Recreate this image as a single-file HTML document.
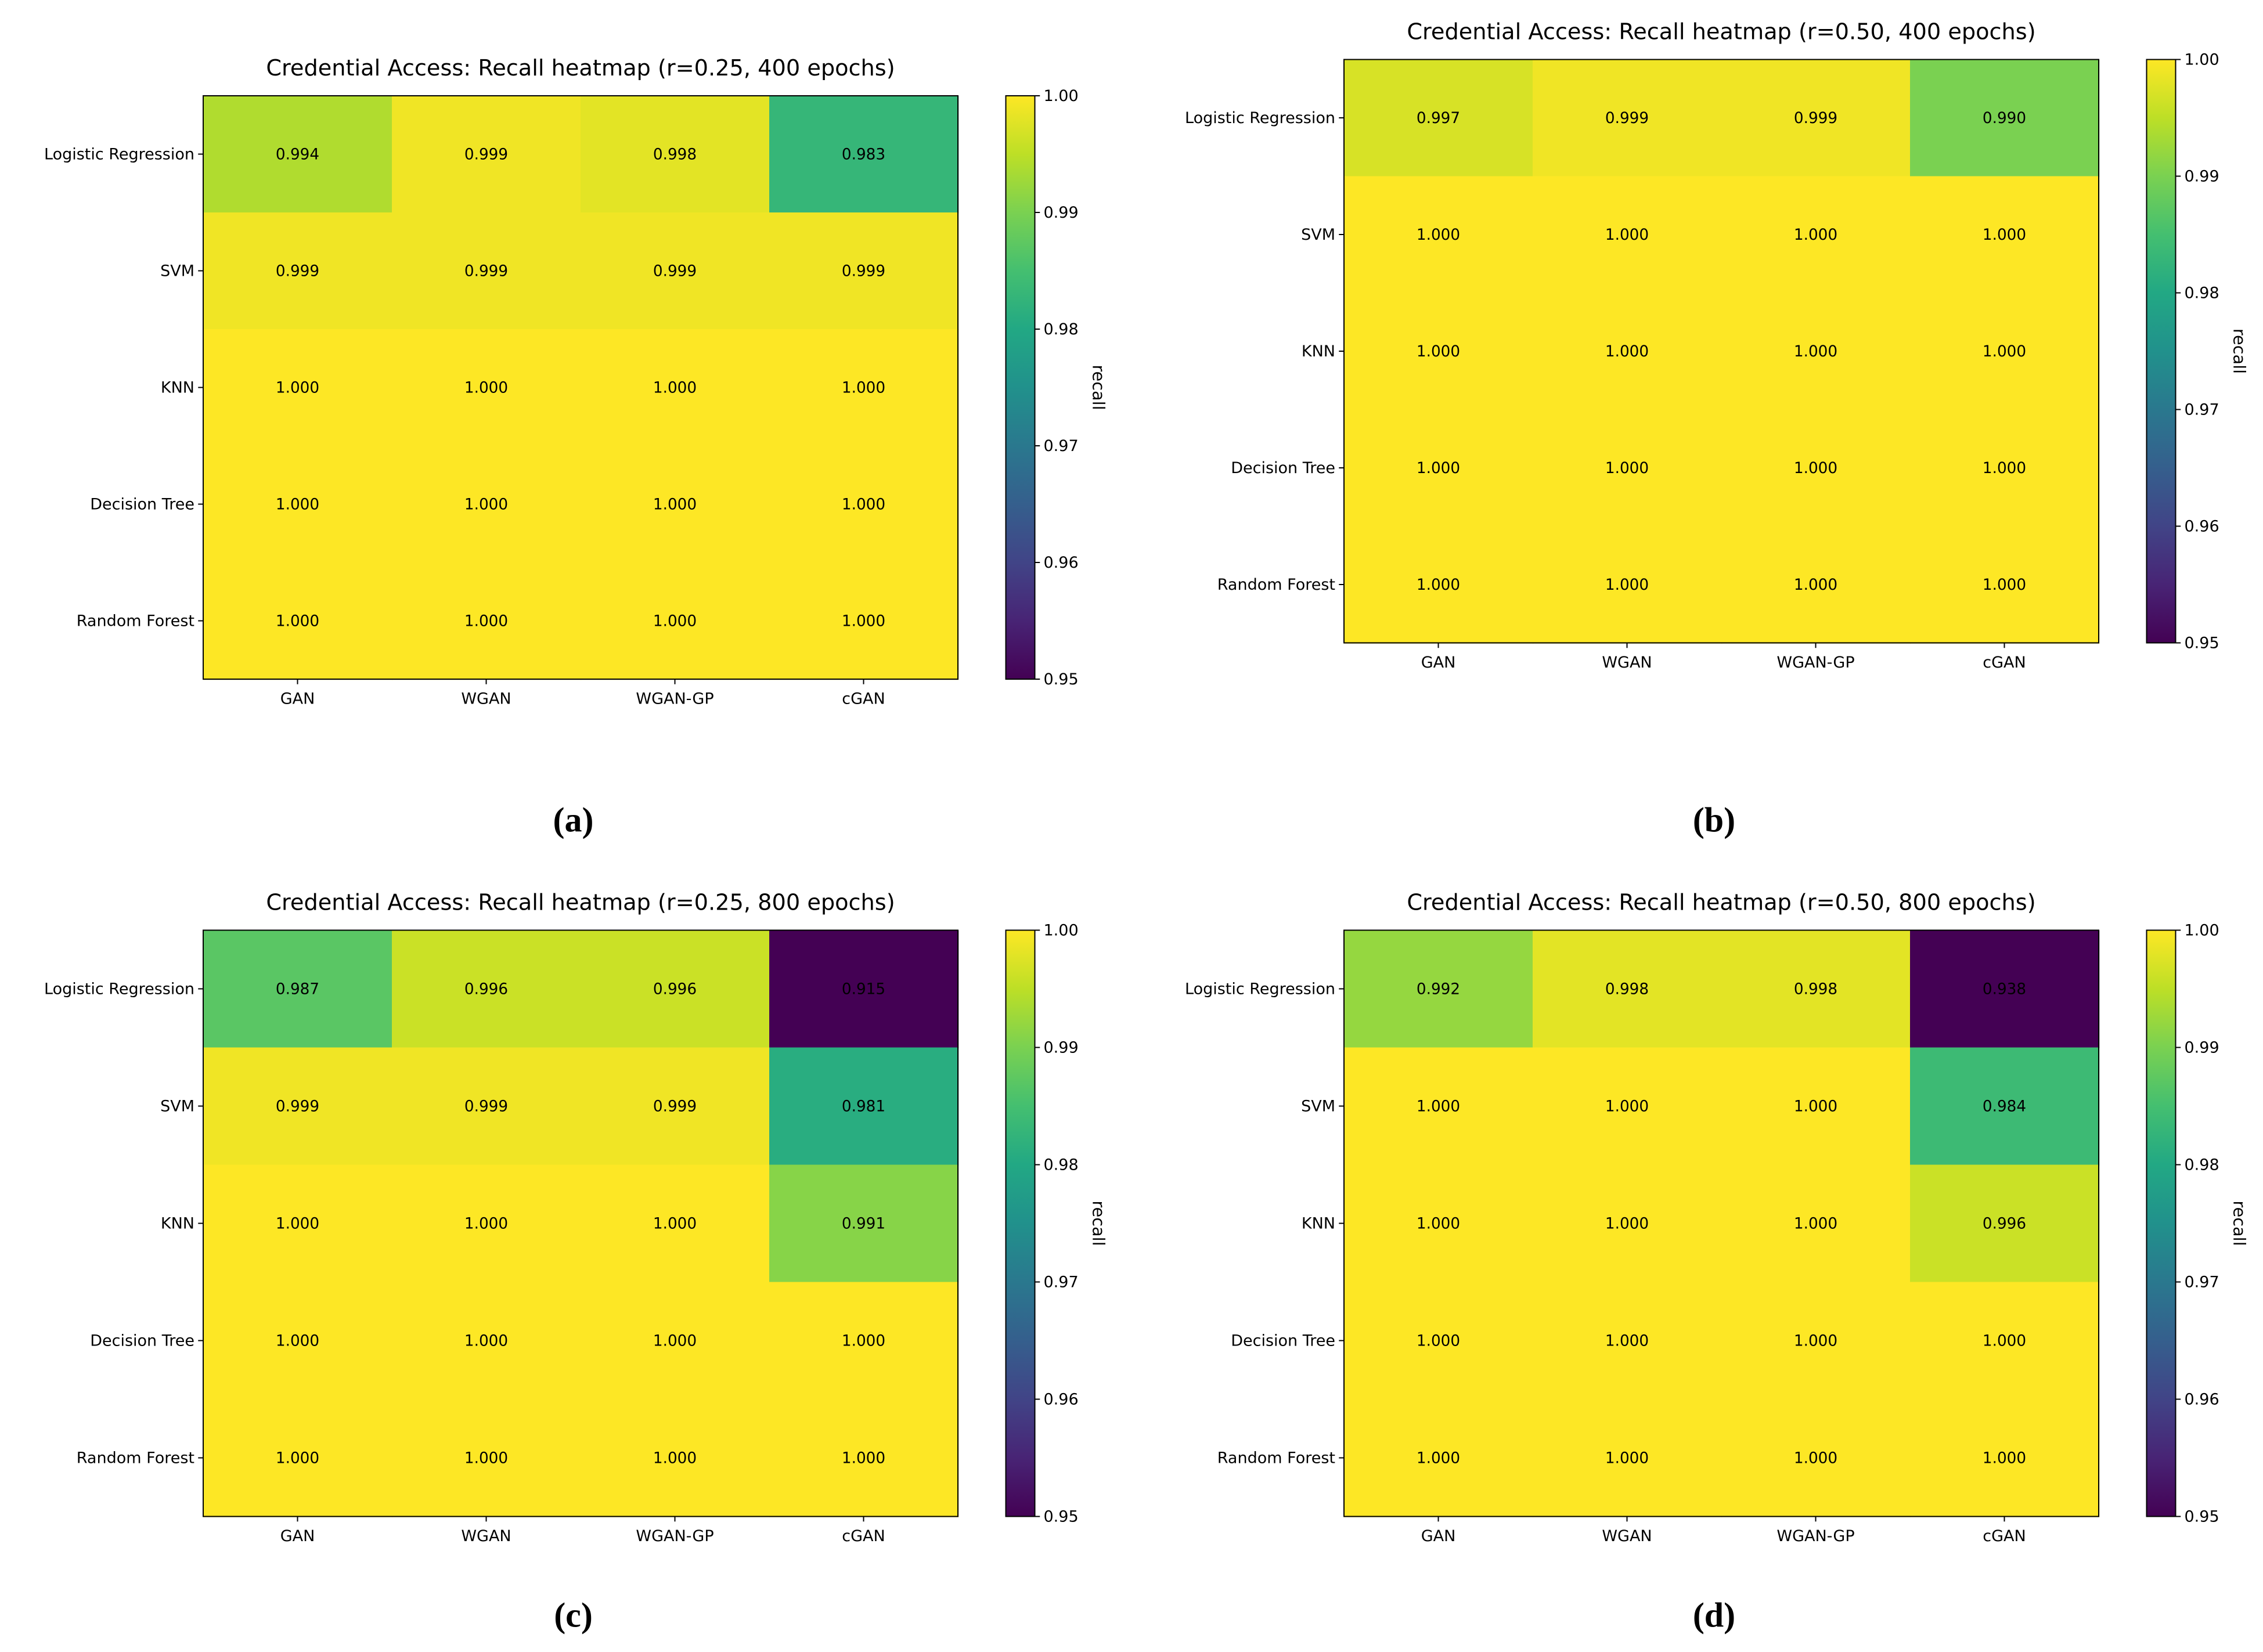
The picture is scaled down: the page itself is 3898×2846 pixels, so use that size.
<!DOCTYPE html>
<html><head><meta charset="utf-8"><style>
html,body{margin:0;padding:0;background:#fff;}
svg{display:block;font-family:"DejaVu Sans","Liberation Sans",sans-serif;}
</style></head><body>
<svg id="fig" width="3898" height="2846" viewBox="0 0 1559.2 1138.4" xmlns="http://www.w3.org/2000/svg">
<defs>
<linearGradient id="vir" x1="0" y1="1" x2="0" y2="0">
<stop offset="0" stop-color="#440154"/><stop offset="0.1" stop-color="#482475"/><stop offset="0.2" stop-color="#414487"/><stop offset="0.3" stop-color="#355f8d"/><stop offset="0.4" stop-color="#2a788e"/><stop offset="0.5" stop-color="#21918c"/><stop offset="0.6" stop-color="#22a884"/><stop offset="0.7" stop-color="#44bf70"/><stop offset="0.8" stop-color="#7ad151"/><stop offset="0.9" stop-color="#bddf26"/><stop offset="1" stop-color="#fde725"/>
</linearGradient>
</defs>
</svg>
<script>
const models = ["Logistic Regression","SVM","KNN","Decision Tree","Random Forest"];
const gans = ["GAN","WGAN","WGAN-GP","cGAN"];
const titles = ["Credential Access: Recall heatmap (r=0.25, 400 epochs)","Credential Access: Recall heatmap (r=0.50, 400 epochs)","Credential Access: Recall heatmap (r=0.25, 800 epochs)","Credential Access: Recall heatmap (r=0.50, 800 epochs)"];
const panelLabels = ["(a)","(b)","(c)","(d)"];
const valuesA = [[0.994,0.999,0.998,0.983],[0.999,0.999,0.999,0.999],[1,1,1,1],[1,1,1,1],[1,1,1,1]];
const valuesB = [[0.997,0.999,0.999,0.990],[1,1,1,1],[1,1,1,1],[1,1,1,1],[1,1,1,1]];
const valuesC = [[0.987,0.996,0.996,0.915],[0.999,0.999,0.999,0.981],[1,1,1,0.991],[1,1,1,1],[1,1,1,1]];
const valuesD = [[0.992,0.998,0.998,0.938],[1,1,1,0.984],[1,1,1,0.996],[1,1,1,1],[1,1,1,1]];
const cbTicks = [0.95,0.96,0.97,0.98,0.99,1.00];
const vmin = 0.95, vmax = 1.0;

const NS = "http://www.w3.org/2000/svg";
const svg = document.getElementById("fig");
const stops = ["#440154","#482475","#414487","#355f8d","#2a788e","#21918c","#22a884","#44bf70","#7ad151","#bddf26","#fde725"];
function hex(h){return [1,3,5].map(i=>parseInt(h.substr(i,2),16));}
function viridis(v){
  let t=(v-vmin)/(vmax-vmin); t=Math.max(0,Math.min(1,t));
  const p=t*10, i=Math.min(9,Math.floor(p)), f=p-i;
  const a=hex(stops[i]), b=hex(stops[i+1]);
  return "rgb("+a.map((c,k)=>Math.round(c+(b[k]-c)*f)).join(",")+")";
}
function el(tag,attrs,parent,text){
  const e=document.createElementNS(NS,tag);
  for(const k in attrs) e.setAttribute(k,attrs[k]);
  if(text!==undefined) e.textContent=text;
  (parent||svg).appendChild(e); return e;
}
const panels = [
  {x:140,y:66,h:402,tx:400,ty:52,lx:395,ly:573,vals:valuesA},
  {x:926,y:41,h:402,tx:1186,ty:27,lx:1181,ly:573,vals:valuesB},
  {x:140,y:641,h:404,tx:400,ty:627,lx:395,ly:1121,vals:valuesC},
  {x:926,y:641,h:404,tx:1186,ty:627,lx:1181,ly:1121,vals:valuesD}
];
const W=520;
panels.forEach((p,pi)=>{
  const g=el("g",{});
  
  
  const cw=W/gans.length, ch=p.h/models.length;
  const xs=j=>p.x+j*cw, ys=i=>p.y+i*ch;
  const t=el("text",{x:p.tx,y:p.ty,"text-anchor":"middle","font-size":"15.3",fill:"#000"},g,titles[pi]);
  
  
  p.vals.forEach((row,i)=>row.forEach((v,j)=>{
    const r=el("rect",{x:xs(j),y:ys(i),width:cw+0.5,height:ch+0.5,fill:viridis(v)},g);
    
    
    const tx=el("text",{x:xs(j)+cw/2,y:ys(i)+ch/2+3.5,"text-anchor":"middle","font-size":"10.5",fill:"#000"},g,v.toFixed(3));
    
    
  }));
  el("rect",{x:p.x,y:p.y,width:W,height:p.h,fill:"none",stroke:"#000","stroke-width":"0.8"},g);
  models.forEach((m,i)=>{
    const cy=ys(i)+ch/2;
    el("line",{x1:p.x-3.5,y1:cy,x2:p.x,y2:cy,stroke:"#000","stroke-width":"0.8"},g);
    const l=el("text",{x:p.x-6,y:cy+3.5,"text-anchor":"end","font-size":"10.8",fill:"#000"},g,m);
    
    
  });
  gans.forEach((m,j)=>{
    const cx=xs(j)+cw/2;
    el("line",{x1:cx,y1:p.y+p.h,x2:cx,y2:p.y+p.h+3.5,stroke:"#000","stroke-width":"0.8"},g);
    const l=el("text",{x:cx,y:p.y+p.h+17,"text-anchor":"middle","font-size":"10.8",fill:"#000"},g,m);
    
    
  });
  const cbx=p.x+553, cbw=20;
  const cb=el("rect",{x:cbx,y:p.y,width:cbw,height:p.h,fill:"url(#vir)",stroke:"#000","stroke-width":"0.8"},g);
  
  
  cbTicks.forEach(v=>{
    const yy=p.y+p.h-(v-vmin)/(vmax-vmin)*p.h;
    el("line",{x1:cbx+cbw,y1:yy,x2:cbx+cbw+3.5,y2:yy,stroke:"#000","stroke-width":"0.8"},g);
    const l=el("text",{x:cbx+cbw+6,y:yy+3.5,"font-size":"10.8",fill:"#000"},g,v.toFixed(2));
    
    
  });
  const lbx=cbx+60, lby=p.y+p.h/2;
  const rl=el("text",{x:lbx,y:lby,"text-anchor":"middle","font-size":"11.5",fill:"#000",transform:"rotate(90 "+lbx+" "+lby+")"},g,"recall");
  
  
  const pl=el("text",{x:p.lx,y:p.ly,"text-anchor":"middle","font-size":"24","font-weight":"bold","font-family":"Liberation Serif, serif",fill:"#000"},g,panelLabels[pi]);
  
  
});
</script>
</body></html>
